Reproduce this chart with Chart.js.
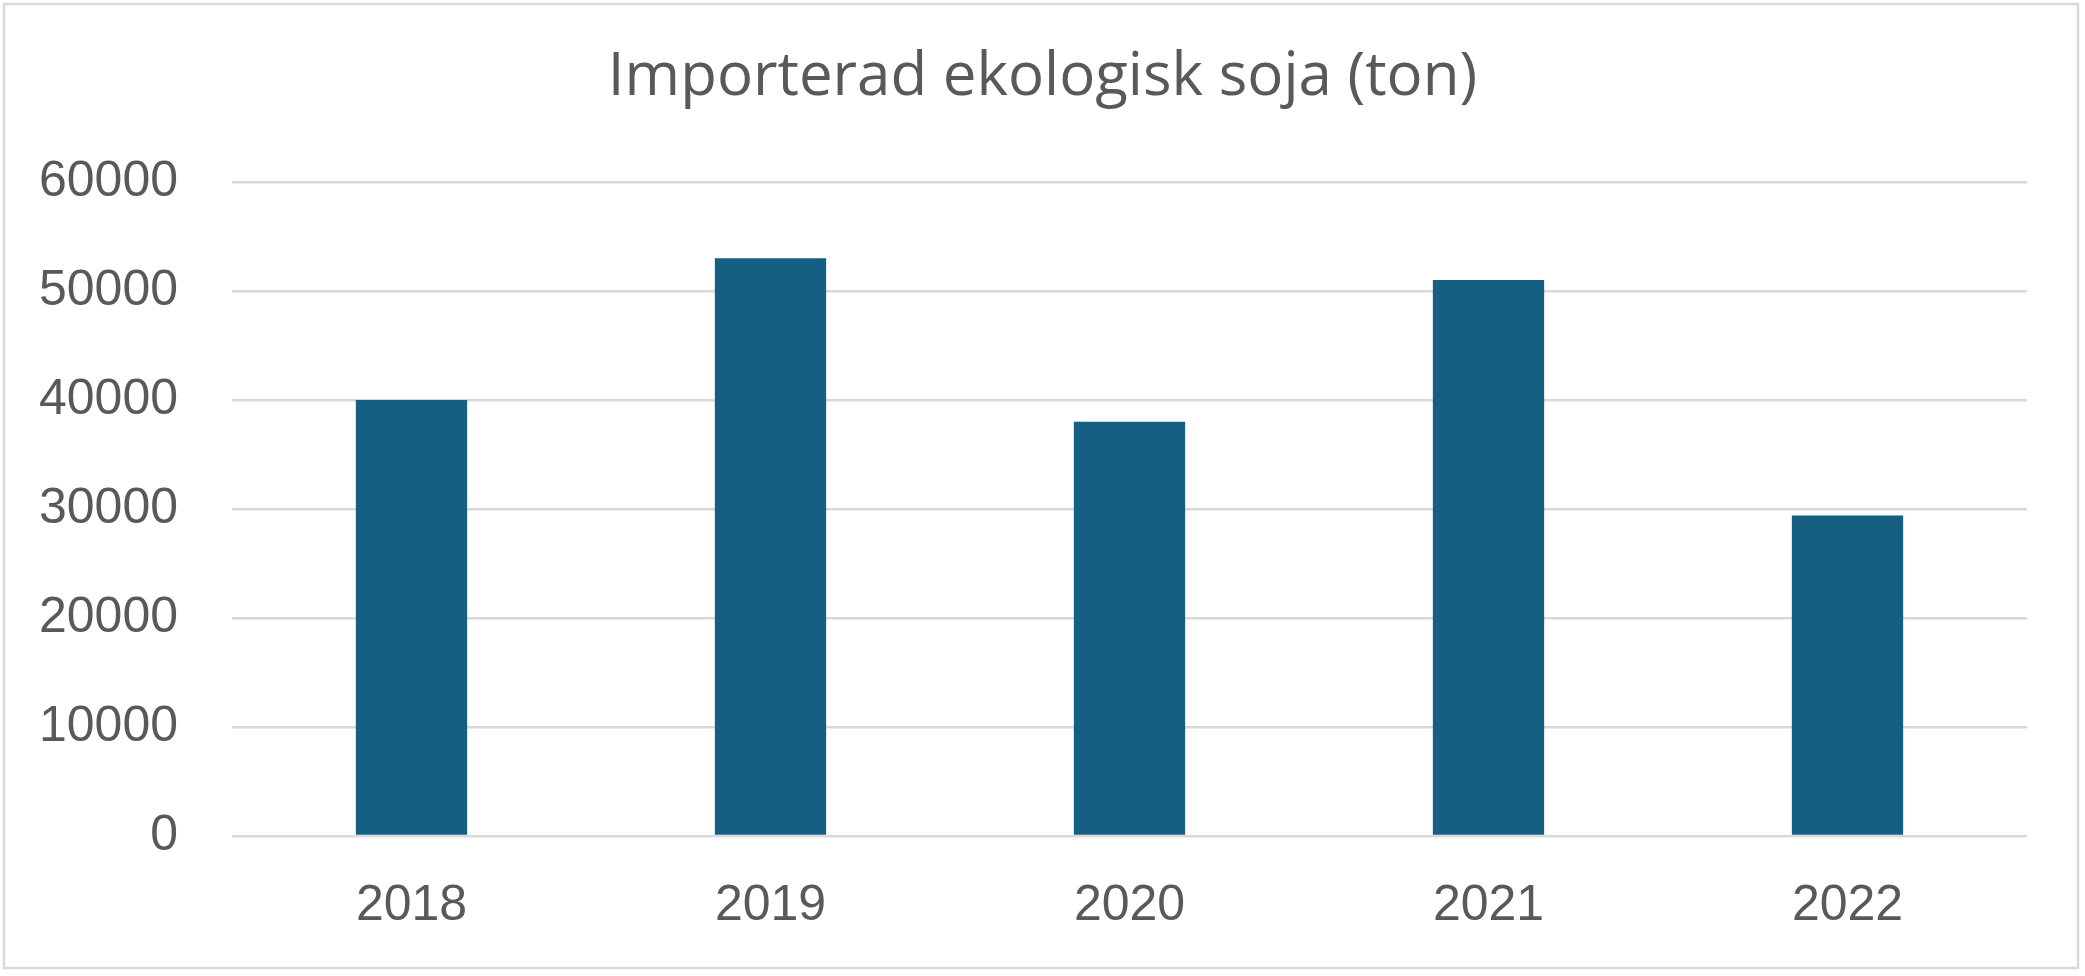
<!DOCTYPE html>
<html>
<head>
<meta charset="utf-8">
<script src="https://cdn.jsdelivr.net/npm/chart.js@4.4.1/dist/chart.umd.min.js"></script>
<style>
  html, body { margin: 0; padding: 0; background: #ffffff; }
  #wrap { width: 2085px; height: 976px; position: relative; }
</style>
</head>
<body>
<div id="wrap"><canvas id="c"></canvas></div>
<script>
const titleText = 'Importerad ekologisk soja (ton)';
const categories = ['2018', '2019', '2020', '2021', '2022'];
const values = [40000, 53000, 38000, 51000, 29400];
const yTicks = [0, 10000, 20000, 30000, 40000, 50000, 60000];

const FONT = "'Liberation Sans', Arial, sans-serif";
const TITLE_FONT = "'Open Sans', 'Liberation Sans', sans-serif";
const TEXT = '#595959';
const GRID = '#d9d9d9';

const frame = {
  id: 'frame',
  afterLayout(chart) {
    const t = chart.titleBlock;
    if (t) { t.left = 0; t.right = chart.width; t.width = chart.width; }
  },
  beforeDraw(chart) {
    const ctx = chart.ctx;
    ctx.save();
    ctx.fillStyle = '#ffffff';
    ctx.fillRect(0, 0, chart.width, chart.height);
    ctx.strokeStyle = GRID;
    ctx.lineWidth = 2.5;
    ctx.strokeRect(4, 4, 2074, 964);
    ctx.restore();
  }
};

new Chart(document.getElementById('c'), {
  type: 'bar',
  data: {
    labels: categories,
    datasets: [{
      data: values,
      backgroundColor: '#156082',
      borderWidth: 0,
      categoryPercentage: 1.0,
      barPercentage: 0.31
    }]
  },
  options: {
    responsive: true,
    maintainAspectRatio: false,
    devicePixelRatio: 1,
    animation: false,
    layout: { padding: { top: 0, left: 0, right: 58, bottom: 0 } },
    plugins: {
      legend: { display: false },
      tooltip: { enabled: false },
      title: {
        display: true,
        text: titleText,
        color: TEXT,
        font: { family: TITLE_FONT, size: 60, weight: 'normal', lineHeight: 1.2 },
        padding: { top: 42, bottom: 68 }
      }
    },
    scales: {
      x: {
        grid: { display: false, drawTicks: false },
        border: { display: false },
        ticks: {
          color: TEXT,
          padding: 40,
          font: { family: FONT, size: 50, lineHeight: 1.2 }
        }
      },
      y: {
        min: 0,
        max: 60000,
        afterBuildTicks(scale) { scale.ticks = yTicks.map(v => ({ value: v })); },
        afterFit(scale) { scale.width = 232; },
        grid: { color: GRID, lineWidth: 2.5, drawTicks: false },
        border: { display: false },
        ticks: {
          color: TEXT,
          padding: 54,
          font: { family: FONT, size: 50, lineHeight: 1.2 },
          callback: (v) => String(v)
        }
      }
    }
  },
  plugins: [frame]
});
</script>
</body>
</html>
